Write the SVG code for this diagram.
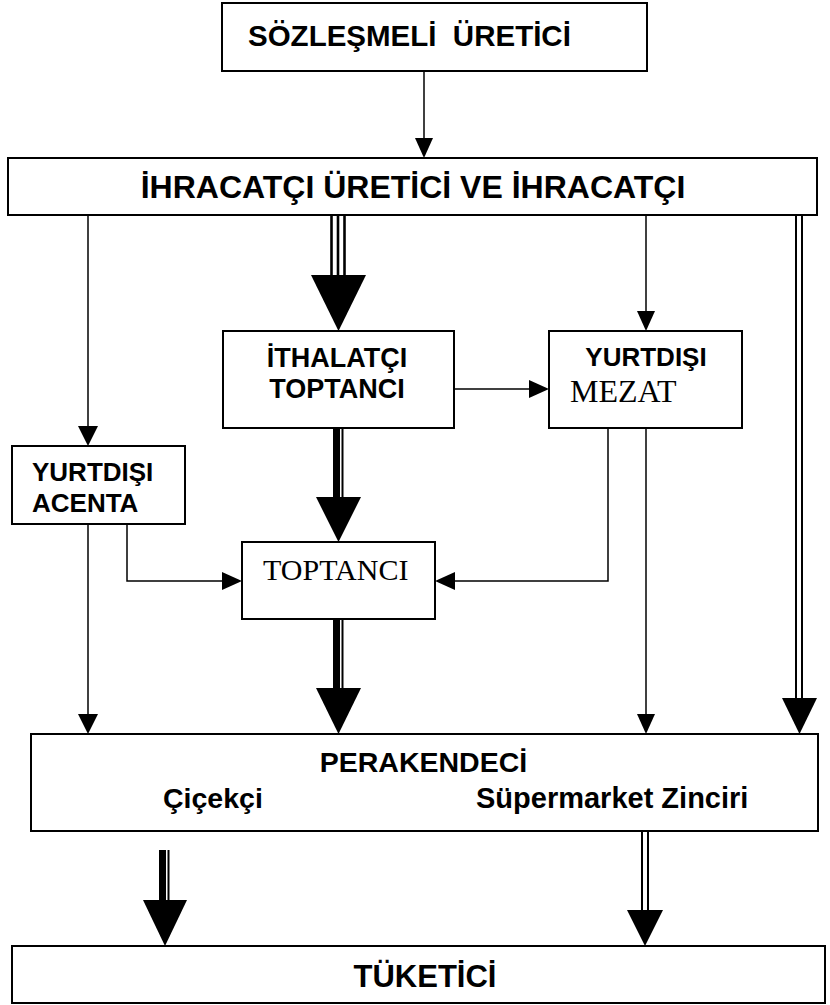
<svg xmlns="http://www.w3.org/2000/svg" width="830" height="1005" viewBox="0 0 830 1005">
<style>
.box{fill:#fff;stroke:#000;stroke-width:2}
.b{font-family:"Liberation Sans",Arial,sans-serif;font-weight:bold;fill:#000}
.s{font-family:"Liberation Serif","Times New Roman",serif;fill:#000}
.ln{stroke:#000;stroke-width:1.5;fill:none}
.dl{stroke:#000;stroke-width:2;fill:none}
.hd{fill:#000;stroke:none}
</style>
<rect width="830" height="1005" fill="#fff"/>
<g id="connectors">
  <line class="ln" x1="424" y1="71" x2="424" y2="140"/>
  <polygon class="hd" points="415,138 433,138 424,158"/>
  <line class="ln" x1="88" y1="215" x2="88" y2="428"/>
  <polygon class="hd" points="78,426 98,426 88,446"/>
  <line stroke="#000" stroke-width="2.6" x1="331.5" y1="215" x2="331.5" y2="277"/>
  <line stroke="#000" stroke-width="2.6" x1="338" y1="215" x2="338" y2="277"/>
  <line stroke="#000" stroke-width="2.6" x1="344.5" y1="215" x2="344.5" y2="277"/>
  <polygon class="hd" points="311,275 366,275 338.5,331"/>
  <line class="ln" x1="646" y1="215" x2="646" y2="313"/>
  <polygon class="hd" points="637,311 655,311 646,331"/>
  <line class="dl" x1="796" y1="215" x2="796" y2="700"/>
  <line class="dl" x1="802" y1="215" x2="802" y2="700"/>
  <polygon class="hd" points="782,698 817,698 799.5,734"/>
  <line class="ln" x1="433" y1="389" x2="531" y2="389"/>
  <polygon class="hd" points="529,380 529,398 549,389"/>
  <rect class="hd" x="333" y="428" width="7" height="71"/>
  <line stroke="#000" stroke-width="2" x1="342.5" y1="428" x2="342.5" y2="499"/>
  <polygon class="hd" points="316,497 361,497 338.5,542"/>
  <polyline class="ln" points="127,524 127,581 224,581"/>
  <polygon class="hd" points="222,572 222,590 242,581"/>
  <line class="ln" x1="88" y1="524" x2="88" y2="716"/>
  <polygon class="hd" points="78,714 98,714 88,734"/>
  <polyline class="ln" points="608,428 608,581 453,581"/>
  <polygon class="hd" points="455,572 455,590 435,581"/>
  <line class="ln" x1="646" y1="428" x2="646" y2="716"/>
  <polygon class="hd" points="637,714 655,714 646,734"/>
  <rect class="hd" x="333" y="619" width="7" height="71"/>
  <line stroke="#000" stroke-width="2" x1="342.5" y1="619" x2="342.5" y2="690"/>
  <polygon class="hd" points="316,688 361,688 338.5,734"/>
  <rect class="hd" x="159" y="850" width="7" height="52"/>
  <line stroke="#000" stroke-width="2" x1="168.5" y1="850" x2="168.5" y2="902"/>
  <polygon class="hd" points="143,900 187,900 165,946"/>
  <line class="dl" x1="642" y1="831" x2="642" y2="912"/>
  <line class="dl" x1="648" y1="831" x2="648" y2="912"/>
  <polygon class="hd" points="627,910 663,910 645,946"/>
</g>
<g id="sozlesmeli">
  <rect class="box" x="222" y="3" width="425" height="68"/>
  <text class="b" x="248" y="46" font-size="29.5" style="white-space:pre">SÖZLEŞMELİ  ÜRETİCİ</text>
</g>
<g id="ihracatci">
  <rect class="box" x="8" y="158" width="809" height="57"/>
  <text class="b" x="413" y="198" font-size="32" text-anchor="middle">İHRACATÇI ÜRETİCİ VE İHRACATÇI</text>
</g>
<g id="ithalatci">
  <rect class="box" x="223" y="331" width="231" height="97"/>
  <text class="b" x="337" y="367" font-size="27" text-anchor="middle">İTHALATÇI</text>
  <text class="b" x="337" y="398" font-size="27" text-anchor="middle">TOPTANCI</text>
</g>
<g id="mezat">
  <rect class="box" x="549" y="331" width="193" height="97"/>
  <text class="b" x="646" y="366" font-size="26" text-anchor="middle">YURTDIŞI</text>
  <text class="s" x="570" y="402" font-size="32">MEZAT</text>
</g>
<g id="acenta">
  <rect class="box" x="12" y="446" width="173" height="78"/>
  <text class="b" x="32" y="481" font-size="26">YURTDIŞI</text>
  <text class="b" x="32" y="512" font-size="26">ACENTA</text>
</g>
<g id="toptanci">
  <rect class="box" x="242" y="542" width="193" height="77"/>
  <text class="s" x="263" y="580" font-size="30">TOPTANCI</text>
</g>
<g id="perakendeci">
  <rect class="box" x="31" y="734" width="787" height="97"/>
  <text class="b" x="423.5" y="772" font-size="28.5" text-anchor="middle">PERAKENDECİ</text>
  <text class="b" x="163" y="808" font-size="28.5">Çiçekçi</text>
  <text class="b" x="476" y="808" font-size="29">Süpermarket Zinciri</text>
</g>
<g id="tuketici">
  <rect class="box" x="12" y="946" width="813" height="57"/>
  <text class="b" x="425" y="987" font-size="31" text-anchor="middle">TÜKETİCİ</text>
</g>
</svg>
